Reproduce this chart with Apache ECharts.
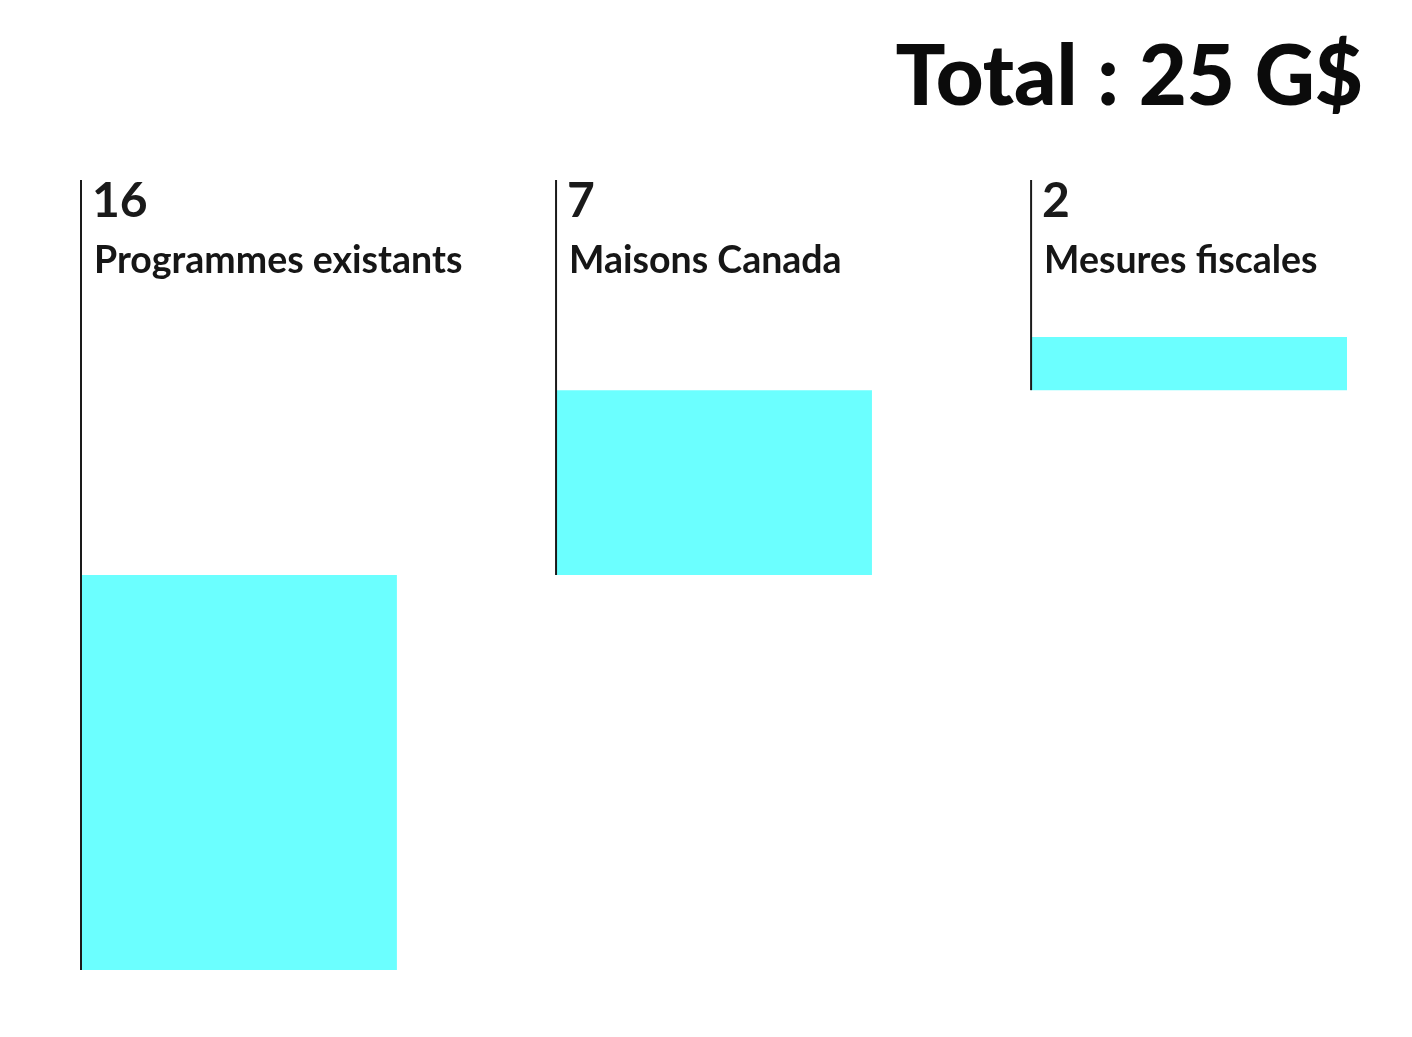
<!DOCTYPE html>
<html>
<head>
<meta charset="utf-8">
<script src="https://cdn.jsdelivr.net/npm/echarts@6/dist/echarts.min.js"></script>
<style>html,body{margin:0;padding:0;background:#fff}#c{width:1412px;height:1037px}</style>
</head>
<body>
<div id="c"></div>
<script>
const categories = ['Programmes existants', 'Maisons Canada', 'Mesures fiscales'];
const values = [15.6, 7.3, 2.1];
const valueLabels = ['16', '7', '2'];
const titleText = 'Total : 25 G$';

const yMax = 31.2;
const barW = 0.665;
const data = [];
let acc = 0;
for (let i = 0; i < values.length; i++) {
  data.push([i, acc, acc + values[i]]);
  acc += values[i];
}

const chart = echarts.init(document.getElementById('c'));
chart.setOption({
  backgroundColor: '#ffffff',
  animation: false,
  title: {
    text: titleText,
    right: 44,
    top: 32,
    textStyle: { fontFamily: 'Lato', fontWeight: 900, fontSize: 83, color: '#0b0b0b' }
  },
  grid: { left: 81, right: 65, top: 180, bottom: 67 },
  xAxis: { type: 'value', min: 0, max: 2 + barW, show: false },
  yAxis: { type: 'value', min: 0, max: yMax, show: false },
  series: [{
    type: 'custom',
    data: data,
    encode: { x: 0, y: [1, 2] },
    renderItem: function (params, api) {
      const idx = api.value(0);
      const start = api.value(1);
      const end = api.value(2);
      const pTop = api.coord([idx, end]);
      const pBot = api.coord([idx, start]);
      const lineTop = api.coord([idx, yMax]);
      const w = api.size([barW, 0])[0];
      const x = pTop[0];
      return {
        type: 'group',
        children: [
          { type: 'rect', shape: { x: x, y: pTop[1], width: w, height: pBot[1] - pTop[1] },
            style: { fill: '#6bffff' } },
          { type: 'line', shape: { x1: x, y1: lineTop[1], x2: x, y2: pBot[1] },
            style: { stroke: '#1a1a1a', lineWidth: 2 } },
          { type: 'text', x: x + 11, y: lineTop[1] - 2,
            style: { text: valueLabels[params.dataIndex], fontFamily: 'Lato', fontWeight: 'bold',
              fontSize: 48, fill: '#1a1a1a', verticalAlign: 'top', align: 'left' } },
          { type: 'text', x: x + 13, y: lineTop[1] + 62,
            style: { text: categories[params.dataIndex], fontFamily: 'Lato', fontWeight: 'bold',
              fontSize: 37.5, fill: '#161616', verticalAlign: 'top', align: 'left' } }
        ]
      };
    }
  }]
});
</script>
</body>
</html>
